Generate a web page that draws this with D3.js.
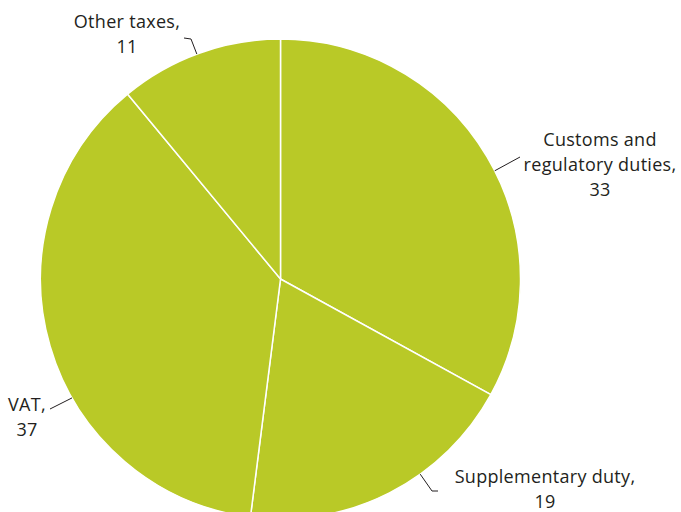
<!DOCTYPE html>
<html>
<head>
<meta charset="utf-8">
<script src="https://cdn.jsdelivr.net/npm/d3@7"></script>
<style>
  html, body { margin: 0; padding: 0; background: #fff; }
  svg { display: block; }
  text { font-family: "Open Sans", "Noto Sans", sans-serif; font-size: 18px; letter-spacing: 0.3px; fill: #231f20; }
</style>
</head>
<body>
<svg id="chart" width="681" height="512"></svg>
<script>
// Revenue shares by tax type
const categories = ["Customs and regulatory duties", "Supplementary duty", "VAT", "Other taxes"];
const values = [33, 19, 37, 11];
const labelLines = [["Customs and", "regulatory duties,", "33"], ["Supplementary duty,", "19"], ["VAT,", "37"], ["Other taxes,", "11"]];

const width = 681, height = 512;
const cx = 280.5, cy = 279, radius = 240;
const fillColor = "#b9c927";

const svg = d3.select("#chart");
const g = svg.append("g").attr("transform", `translate(${cx},${cy})`);

const pie = d3.pie().sort(null).value(d => d.value);
const arc = d3.arc().innerRadius(0).outerRadius(radius);
const data = categories.map((c, i) => ({ name: c, value: values[i], lines: labelLines[i] }));
const arcs = pie(data);

g.selectAll("path.slice")
  .data(arcs)
  .enter().append("path")
  .attr("class", "slice")
  .attr("d", arc)
  .attr("fill", fillColor)
  .attr("stroke", "#fff")
  .attr("stroke-width", 1.5);

// Label placement: leader anchor angle (deg, clockwise from top), elbow and end points, text block
const layout = [
  { angle: 63.2, pts: [[520, 157]], tx: 600, ty: 146, lh: 25 },
  { angle: 144.4, pts: [[432, 491], [438, 491]], tx: 545, ty: 483, lh: 25 },
  { angle: 240.3, pts: [[50, 409]], tx: 27, ty: 411, lh: 25 },
  { angle: 339.6, pts: [[191, 39], [184, 38]], tx: 127, ty: 28, lh: 25 }
];

arcs.forEach((a, i) => {
  const L = layout[i];
  const t = L.angle * Math.PI / 180;
  const start = [cx + radius * Math.sin(t), cy - radius * Math.cos(t)];
  svg.append("path")
    .attr("d", d3.line()([start, ...L.pts]))
    .attr("fill", "none")
    .attr("stroke", "#231f20")
    .attr("stroke-width", 1);
  const txt = svg.append("text").attr("text-anchor", "middle");
  a.data.lines.forEach((s, j) => {
    txt.append("tspan").attr("x", L.tx).attr("y", L.ty + j * L.lh).text(s);
  });
});
</script>
</body>
</html>
